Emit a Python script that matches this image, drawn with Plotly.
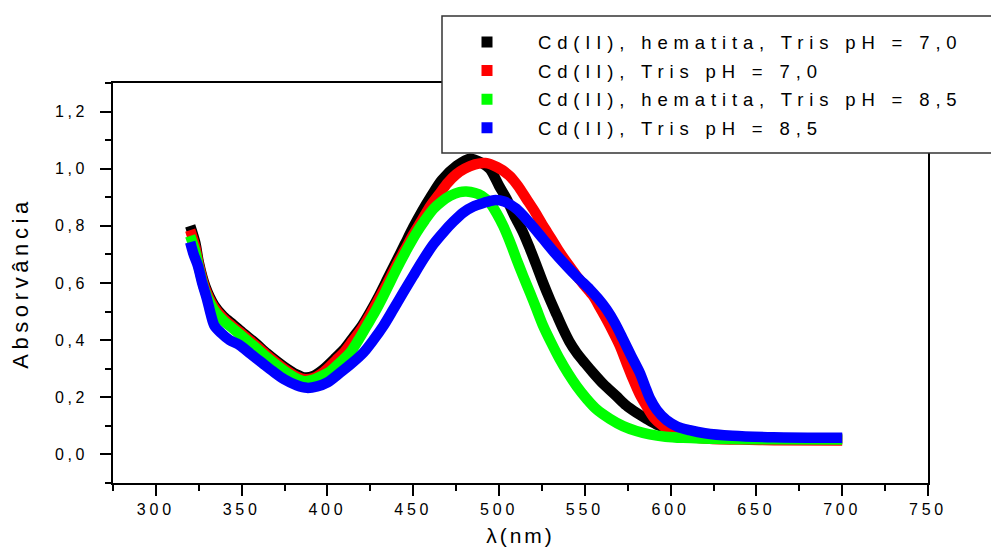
import plotly.graph_objects as go

# ---------------- data ----------------
SERIES_NAMES = [
    "Cd(II), hematita, Tris pH = 7,0",
    "Cd(II), Tris pH = 7,0",
    "Cd(II), hematita, Tris pH = 8,5",
    "Cd(II), Tris pH = 8,5",
]
SERIES_COLORS = ["#000000", "#ff0000", "#00ff00", "#0000ff"]

black_x = [320, 323, 325, 328.8, 334, 339.4, 345, 351, 358, 364.7, 374.8, 382, 387, 392, 397.6,
           405, 410, 415, 420, 425, 430, 435, 440, 445, 450, 455, 460, 466.6, 475.3, 483, 490,
           494.7, 500, 504.4, 509, 514, 518, 521.9, 525.7, 529.6, 533.5, 537.4, 541, 545.2, 550,
           554.8, 561, 568.4, 574, 580, 586, 591.7, 599.5, 610, 625, 650, 700]
black_y = [0.80, 0.74, 0.672, 0.588, 0.522, 0.483, 0.455, 0.424, 0.39, 0.354, 0.307, 0.28, 0.269, 0.275, 0.298,
           0.34, 0.37, 0.41, 0.45, 0.50, 0.555, 0.615, 0.675, 0.735, 0.795, 0.85, 0.90, 0.96, 1.01, 1.035, 1.02,
           0.999, 0.94, 0.894, 0.835, 0.777, 0.72, 0.66, 0.60, 0.543, 0.49, 0.438, 0.395, 0.356, 0.32,
           0.286, 0.245, 0.204, 0.172, 0.146, 0.124, 0.105, 0.088, 0.072, 0.062, 0.057, 0.055]

red_x = [320, 323, 325, 328.8, 334, 339.4, 345, 351, 358, 364.7, 374.8, 382, 387, 392, 398,
         405, 410, 415, 420, 425, 430, 435, 440, 445, 450, 455, 460, 465, 470, 475, 480, 486,
         492, 499, 506, 511, 516, 520.8, 525.7, 530.5, 535.4, 540.3, 545.2, 550, 554.8, 558.7,
         562.6, 566.5, 570.4, 574.3, 578.1, 582, 585.9, 590, 595.6, 601, 607.2, 620, 640, 660, 700]
red_y = [0.785, 0.725, 0.665, 0.58, 0.515, 0.476, 0.447, 0.418, 0.383, 0.348, 0.30, 0.273, 0.263, 0.268, 0.29,
         0.33, 0.36, 0.40, 0.44, 0.49, 0.545, 0.60, 0.66, 0.715, 0.77, 0.82, 0.87, 0.91, 0.95, 0.98, 1.0, 1.015,
         1.02, 1.005, 0.976, 0.94, 0.894, 0.85, 0.80, 0.755, 0.707, 0.665, 0.625, 0.59, 0.555, 0.515,
         0.473, 0.428, 0.38, 0.32, 0.263, 0.21, 0.169, 0.13, 0.099, 0.078, 0.064, 0.056, 0.052, 0.05, 0.049]

green_x = [320, 323, 325, 328.8, 334, 339.4, 345, 351, 358, 364.7, 374.8, 382, 387, 392, 395, 401.5,
           407, 413.2, 418, 422.9, 427.8, 432.6, 437.5, 442.3, 447, 452, 456.8, 461.7, 466.5, 471.4,
           477, 481, 486, 490, 494.7, 498.5, 502.4, 506.3, 510.2, 514, 518, 521.9, 525.7, 530.5,
           535.4, 540.3, 545.2, 551, 556.8, 564.5, 572.3, 580, 587.8, 597, 607.2, 630, 660, 700]
green_y = [0.765, 0.71, 0.655, 0.57, 0.505, 0.468, 0.44, 0.41, 0.375, 0.34, 0.293, 0.266, 0.256, 0.262, 0.27, 0.29,
           0.32, 0.356, 0.40, 0.45, 0.50, 0.555, 0.615, 0.672, 0.725, 0.777, 0.82, 0.859, 0.885, 0.905,
           0.918, 0.92, 0.915, 0.905, 0.88, 0.845, 0.80, 0.745, 0.683, 0.625, 0.567, 0.508, 0.45, 0.39,
           0.333, 0.283, 0.239, 0.195, 0.158, 0.125, 0.099, 0.082, 0.07, 0.062, 0.058, 0.054, 0.053, 0.052]

blue_x = [320, 322, 324.5, 327, 329.8, 332, 334, 338, 343, 348.7, 355, 362, 368.2, 375, 382, 388,
          394, 400, 407.4, 414, 420.9, 426.7, 432.6, 438.4, 444.2, 450, 455.9, 461.7, 467.5, 473.4,
          479.2, 485, 490.8, 497, 503, 510, 517.9, 525.7, 532.5, 539.3, 546, 552.9, 557.8, 562.6,
          567.5, 572.3, 577, 582, 585, 588, 592, 597.6, 604, 611, 620, 636, 660, 700]
blue_y = [0.743, 0.70, 0.66, 0.60, 0.543, 0.49, 0.452, 0.425, 0.40, 0.383, 0.353, 0.32, 0.291, 0.262, 0.242, 0.233,
          0.238, 0.252, 0.286, 0.318, 0.356, 0.40, 0.45, 0.508, 0.567, 0.625, 0.683, 0.735, 0.777, 0.815,
          0.847, 0.868, 0.88, 0.89, 0.885, 0.86, 0.81, 0.754, 0.705, 0.66, 0.618, 0.578, 0.545, 0.508,
          0.46, 0.403, 0.345, 0.286, 0.24, 0.195, 0.155, 0.12, 0.097, 0.085, 0.074, 0.065, 0.06, 0.058]

X_TICK_VALUES = [300, 350, 400, 450, 500, 550, 600, 650, 700, 750]
X_TICK_LABELS = ["300", "350", "400", "450", "500", "550", "600", "650", "700", "750"]
Y_TICK_VALUES = [0.0, 0.2, 0.4, 0.6, 0.8, 1.0, 1.2]
Y_TICK_LABELS = ["0,0", "0,2", "0,4", "0,6", "0,8", "1,0", "1,2"]
X_TITLE = "λ(nm)"
Y_TITLE = "Absorvância"

# ---------------- styling ----------------
FONT = "Liberation Sans, Arial, sans-serif"


def spaced(text, px):
    return '<span style="letter-spacing:%spx">%s</span>' % (px, text)


xs = [black_x, red_x, green_x, blue_x]
ys = [black_y, red_y, green_y, blue_y]

fig = go.Figure()
for i, (name, color, x, y) in enumerate(zip(SERIES_NAMES, SERIES_COLORS, xs, ys)):
    fig.add_trace(go.Scatter(
        x=x, y=y, mode="lines", name=name, legendgroup="g%d" % i, showlegend=False,
        line=dict(color=color, width=10.5, shape="spline", smoothing=0.8),
    ))
# legend entries (square keys as in the original)
for i, (name, color) in enumerate(zip(SERIES_NAMES, SERIES_COLORS)):
    fig.add_trace(go.Scatter(
        x=[None], y=[None], mode="markers", name=spaced(name, 5.85), legendgroup="g%d" % i,
        marker=dict(symbol="square", size=11, color=color, line=dict(width=0)),
    ))

# page body has an 8px margin: figure is drawn 8px right/down of the window origin
OFF = 8
W, H = 999 - OFF, 547 - OFF
L, T = 113 - OFF, 83 - OFF
R = W - (928 - OFF)
B = H - (483 - OFF)
pw, ph = W - L - R, H - T - B


def sx(p):  # screen px -> paper x
    return (p - OFF - L) / pw


def sy(p):  # screen px -> paper y
    return (H - B - (p - OFF)) / ph


fig.update_layout(
    width=W, height=H,
    margin=dict(l=L, r=R, t=T, b=B, pad=0, autoexpand=False),
    paper_bgcolor="white", plot_bgcolor="white",
    font=dict(family=FONT, color="black", size=16),
    showlegend=True,
    legend=dict(
        x=sx(436), xanchor="left",
        y=sy(23.5), yanchor="top",
        bgcolor="rgba(0,0,0,0)", borderwidth=0,
        font=dict(family=FONT, size=18.5, color="black"),
        itemwidth=92, tracegroupgap=1.5,
    ),
    shapes=[dict(
        type="rect", xref="paper", yref="paper", layer="above",
        x0=sx(442), x1=sx(998),
        y0=sy(153), y1=sy(16),
        fillcolor="white", line=dict(color="#333333", width=1.5),
    )],
    xaxis=dict(
        range=[275, 750], showgrid=False, zeroline=False,
        showline=True, linecolor="black", linewidth=2, mirror=True,
        ticks="outside", ticklen=11, tickwidth=1.5, tickcolor="black",
        tickmode="array", tickvals=X_TICK_VALUES,
        ticktext=[spaced(t, 3.8) for t in X_TICK_LABELS],
        tickfont=dict(family=FONT, size=16, color="black"),
        minor=dict(ticks="outside", ticklen=6, tickwidth=1.5, tickcolor="black",
                   tickmode="linear", tick0=275, dtick=25),
        title=dict(text=spaced(X_TITLE, 3), font=dict(family=FONT, size=21, color="black"), standoff=19),
    ),
    yaxis=dict(
        range=[-0.1, 1.3], showgrid=False, zeroline=False,
        showline=True, linecolor="black", linewidth=2, mirror=True,
        ticks="outside", ticklen=11, tickwidth=1.5, tickcolor="black",
        tickmode="array", tickvals=Y_TICK_VALUES,
        ticktext=[spaced(t, 3.5) for t in Y_TICK_LABELS],
        tickfont=dict(family=FONT, size=16, color="black"),
        ticklabelstandoff=9,
        minor=dict(ticks="outside", ticklen=6, tickwidth=1.5, tickcolor="black",
                   tickmode="linear", tick0=-0.1, dtick=0.1),
        title=dict(text=spaced(Y_TITLE, 4.6), font=dict(family=FONT, size=22, color="black"), standoff=20),
    ),
)

fig.write_html("out.html")
